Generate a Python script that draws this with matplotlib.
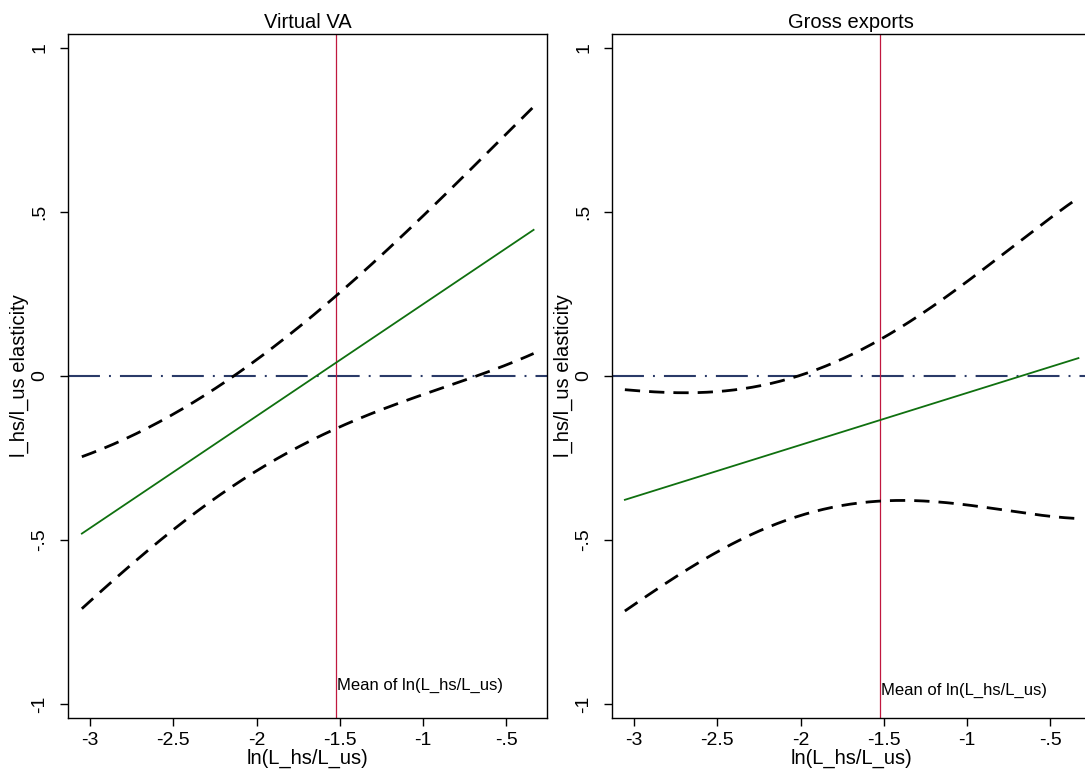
import matplotlib
matplotlib.use("Agg")
import matplotlib.pyplot as plt
import numpy as np

plt.rcParams['font.family'] = ['Liberation Sans', 'DejaVu Sans']
plt.rcParams['lines.scale_dashes'] = False

# data
mean_x = -1.523
titles = ['Virtual VA', 'Gross exports']

va_fit_x = [-3.05, -0.336]
va_fit_y = [-0.481, 0.445]
va_hi_x = [-3.05, -2.529, -2.129, -1.886, -1.528, -1.129, -0.727, -0.336]
va_hi_y = [-0.248, -0.119, -0.002, 0.088, 0.242, 0.436, 0.613, 0.823]
va_lo_x = [-3.05, -2.730, -2.329, -1.928, -1.528, -1.129, -0.727, -0.336]
va_lo_y = [-0.708, -0.571, -0.398, -0.266, -0.165, -0.082, -0.006, 0.067]

gx_fit_x = [-3.056, -0.331]
gx_fit_y = [-0.378, 0.054]
gx_hi_x = [-3.056, -2.705, -2.413, -2.131, -1.850, -1.528, -1.186, -0.824, -0.583, -0.331]
gx_hi_y = [-0.043, -0.050, -0.044, -0.017, 0.028, 0.105, 0.227, 0.354, 0.445, 0.545]
gx_lo_x = [-3.056, -2.936, -2.775, -2.534, -2.252, -1.971, -1.689, -1.528, -1.247,
           -0.924, -0.643, -0.359, -0.331]
gx_lo_y = [-0.713, -0.675, -0.632, -0.541, -0.472, -0.417, -0.390, -0.386, -0.386,
           -0.398, -0.414, -0.435, -0.437]

xticks = [-3, -2.5, -2, -1.5, -1, -0.5]
xticklabels = ['-3', '-2.5', '-2', '-1.5', '-1', '-.5']
yticks = [-1, -0.5, 0, 0.5, 1]
yticklabels = ['-1', '-.5', '0', '.5', '1']

panels = [
    (va_fit_x, va_fit_y, va_hi_x, va_hi_y, va_lo_x, va_lo_y, -0.945),
    (gx_fit_x, gx_fit_y, gx_hi_x, gx_hi_y, gx_lo_x, gx_lo_y, -0.959),
]

fig = plt.figure(figsize=(10.85, 7.82), dpi=100)
positions = [[0.0627, 0.0815, 0.4412, 0.8754], [0.5641, 0.0815, 0.4412, 0.8754]]


def smooth(xs, ys):
    # smooth curve through the read points
    xs = np.asarray(xs)
    ys = np.asarray(ys)
    xx = np.linspace(xs[0], xs[-1], 200)
    coef = np.polyfit(xs, ys, 4)
    return xx, np.polyval(coef, xx)


for i, (fx, fy, hx, hy, lx, ly, txt_y) in enumerate(panels):
    ax = fig.add_axes(positions[i])
    ax.set_xlim(-3.133, -0.257)
    ax.set_ylim(-1.044, 1.043)

    ax.axhline(0, color='#2a3a68', lw=1.5, dashes=(23, 6.5, 1.4, 6.5), zorder=1)
    ax.axvline(mean_x, color='#c0183f', lw=0.9, zorder=2)

    ax.plot(fx, fy, color='#0f700f', lw=1.3, zorder=3)
    sx, sy = smooth(hx, hy)
    ax.plot(sx, sy, color='black', lw=2.0, dashes=(11, 6.5), zorder=3)
    sx, sy = smooth(lx, ly)
    ax.plot(sx, sy, color='black', lw=2.0, dashes=(11, 6.5), zorder=3)

    ax.text(mean_x + 0.005, txt_y, 'Mean of ln(L_hs/L_us)', fontsize=12,
            ha='left', va='center')

    ax.set_xticks(xticks)
    ax.set_xticklabels(xticklabels)
    ax.set_yticks(yticks)
    ax.set_yticklabels(yticklabels, rotation=90, va='center')
    ax.tick_params(axis='both', direction='out', length=6, width=1,
                   labelsize=14, pad=4)
    ax.tick_params(axis='y', pad=8)
    for s in ax.spines.values():
        s.set_linewidth(1.0)
    ax.set_title(titles[i], fontsize=14.5, pad=4)
    ax.set_xlabel('ln(L_hs/L_us)', fontsize=14.5, labelpad=0)
    ax.set_ylabel('l_hs/l_us elasticity', fontsize=14.5, labelpad=2)

fig.savefig('out.png', dpi=100)
